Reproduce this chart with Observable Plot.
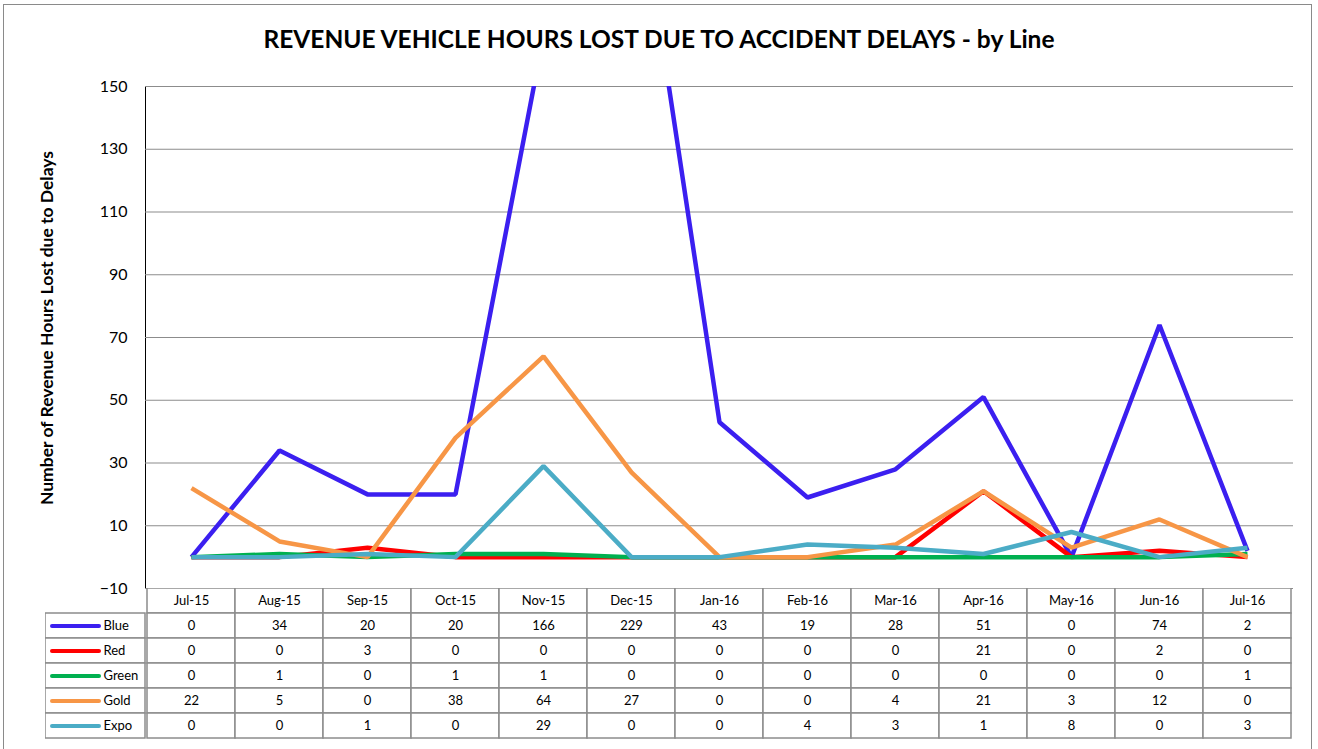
<!DOCTYPE html>
<html><head><meta charset="utf-8">
<script src="https://cdn.jsdelivr.net/npm/d3@7"></script>
<script src="https://cdn.jsdelivr.net/npm/@observablehq/plot@0.6"></script>
<style>
html,body{margin:0;padding:0;background:#fff;overflow:hidden}
#wrap{position:relative;width:1318px;height:749px;font-family:Lato,"Open Sans",sans-serif}
#frame{position:absolute;left:3px;top:4px;width:1309px;height:770px;border:1px solid #8a8a8a;box-sizing:border-box}
#title{position:absolute;left:0;top:24px;width:1318px;text-align:center;font-weight:bold;font-size:24.5px;color:#000}
#ylab{position:absolute;left:46px;top:328px;transform:translate(-50%,-50%) rotate(-90deg);white-space:nowrap;font-weight:bold;font-size:17.5px}
.abs{position:absolute}
</style></head><body>
<div id="wrap">
<div id="frame"></div>
<div id="title">REVENUE VEHICLE HOURS LOST DUE TO ACCIDENT DELAYS - by Line</div>
<div id="ylab">Number of Revenue Hours Lost due to Delays</div>
<div id="main" class="abs" style="left:0;top:0"></div>
<div id="table" class="abs" style="left:0;top:588px"></div>
<div id="legend" class="abs" style="left:45px;top:588px"></div>
</div>
<script>
const months = ["Jul-15","Aug-15","Sep-15","Oct-15","Nov-15","Dec-15","Jan-16","Feb-16","Mar-16","Apr-16","May-16","Jun-16","Jul-16"];
const seriesNames = ["Blue","Red","Green","Gold","Expo"];
const seriesColors = ["#3b1ff0","#ff0000","#00b050","#f79646","#4bacc6"];
const blueValues  = [0,34,20,20,166,229,43,19,28,51,0,74,2];
const redValues   = [0,0,3,0,0,0,0,0,0,21,0,2,0];
const greenValues = [0,1,0,1,1,0,0,0,0,0,0,0,1];
const goldValues  = [22,5,0,38,64,27,0,0,4,21,3,12,0];
const expoValues  = [0,0,1,0,29,0,0,4,3,1,8,0,3];
const yTicks = [-10,10,30,50,70,90,110,130,150];

const valuesBySeries = {Blue: blueValues, Red: redValues, Green: greenValues, Gold: goldValues, Expo: expoValues};
const colorOf = Object.fromEntries(seriesNames.map((s,i)=>[s, seriesColors[i]]));
const rows = [];
for (const s of seriesNames) valuesBySeries[s].forEach((v,i)=>rows.push({series:s, month:months[i], value:v}));
const font = "Lato, 'Open Sans', sans-serif";
const grid = "#8c8c8c";

const main = Plot.plot({
  width:1318, height:600,
  marginTop:86, marginBottom:12, marginLeft:145, marginRight:25,
  style:{fontFamily:font, fontSize:"16px", color:"#000", background:"transparent"},
  x:{type:"point", domain:months, padding:0.5, axis:null},
  y:{domain:[-10,150], ticks:yTicks, tickSize:0, tickPadding:18, label:null, line:true},
  marks:[
    Plot.ruleY(yTicks, {stroke:grid, strokeWidth:1.2}),
    ...seriesNames.map(s => Plot.line(rows.filter(d=>d.series===s), {x:"month", y:"value", stroke:colorOf[s], strokeWidth:4.5, strokeLinejoin:"miter", strokeLinecap:"butt", clip:true}))
  ]
});
main.querySelectorAll('[aria-label="y-axis line"] line, [aria-label="y-axis"] path').forEach(e=>e.setAttribute("stroke",grid));
document.getElementById("main").appendChild(main);

const rowDomain = ["hdr", ...seriesNames];
const cells = [];
for (const m of months) cells.push({month:m, row:"hdr", text:m});
for (const r of rows) cells.push({month:r.month, row:r.series, text:String(r.value)});

const table = Plot.plot({
  width:1318, height:152,
  marginTop:0, marginBottom:2, marginLeft:145, marginRight:25,
  style:{fontFamily:font, fontSize:"13px", color:"#000", background:"transparent"},
  x:{type:"band", domain:months, padding:0, axis:null},
  y:{type:"band", domain:rowDomain, padding:0, axis:null},
  marks:[
    Plot.cell(cells, {x:"month", y:"row", fill:"white", stroke:grid, strokeWidth:1.5, inset:0}),
    Plot.text(cells, {x:"month", y:"row", text:"text", fill:"#000", fontSize:13})
  ]
});
document.getElementById("table").appendChild(table);

const legend = Plot.plot({
  width:101, height:152,
  marginTop:0, marginBottom:2, marginLeft:0, marginRight:1,
  style:{fontFamily:font, fontSize:"13px", color:"#000", background:"transparent"},
  x:{type:"band", domain:["swatch","name"], padding:0, axis:null},
  y:{type:"band", domain:rowDomain, padding:0, axis:null},
  marks:[
    Plot.cell(seriesNames, {y:d=>d, fill:"white", stroke:grid, strokeWidth:1.5, inset:0}),
    ...seriesNames.map(s => Plot.tickY([s], {x:()=>"swatch", y:d=>d, stroke:colorOf[s], strokeWidth:4, strokeLinecap:"round", insetLeft:7, insetRight:-4})),
    Plot.text(seriesNames, {x:()=>"name", y:d=>d, text:d=>d, textAnchor:"start", dx:-17, fill:"#000", fontSize:13})
  ]
});
document.getElementById("legend").appendChild(legend);
</script>
</body></html>
